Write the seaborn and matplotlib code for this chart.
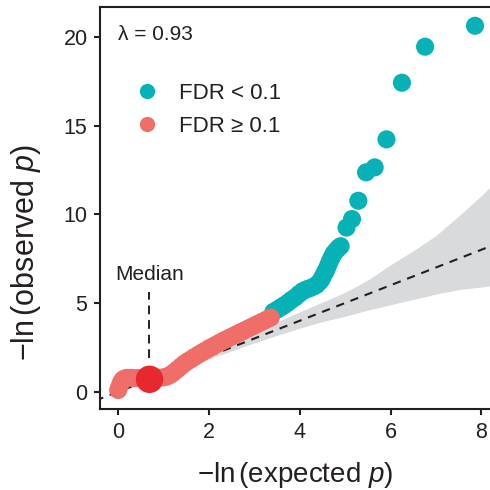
import numpy as np
import pandas as pd
import matplotlib
matplotlib.use('Agg')
import matplotlib.pyplot as plt
import seaborn as sns
from matplotlib.lines import Line2D

# valores (-ln p esperado / observado)
sal_x = [0.0, 0.03, 0.06, 0.1, 0.15, 0.2, 0.3, 0.4, 0.5, 0.6, 0.7, 0.8, 0.9, 1.0,
         1.08, 1.15, 1.22, 1.3, 1.38, 1.45, 1.52, 1.6, 1.68, 1.76, 1.84, 1.92,
         2.0, 2.08, 2.16, 2.24, 2.32, 2.4, 2.48, 2.56, 2.64, 2.72, 2.8, 2.88,
         2.96, 3.04, 3.12, 3.2, 3.28, 3.36]
sal_y = [0.1, 0.3, 0.52, 0.68, 0.75, 0.78, 0.78, 0.77, 0.77, 0.77, 0.77, 0.78, 0.79, 0.81,
         0.86, 0.95, 1.08, 1.25, 1.42, 1.57, 1.7, 1.82, 1.95, 2.08, 2.2, 2.32,
         2.44, 2.55, 2.66, 2.77, 2.88, 2.98, 3.08, 3.18, 3.28, 3.38, 3.48, 3.58,
         3.68, 3.78, 3.88, 3.98, 4.08, 4.18]
teal_x = [3.42, 3.5, 3.58, 3.66, 3.74, 3.82, 3.9, 3.98, 4.06, 4.14, 4.22, 4.3,
          4.37, 4.44, 4.48, 4.52, 4.56, 4.59, 4.63, 4.67, 4.71, 4.75, 4.8, 4.85,
          4.9, 5.03, 5.15, 5.29, 5.46, 5.65, 5.91, 6.25, 6.76, 7.86]
teal_y = [4.5, 4.62, 4.75, 4.88, 5.02, 5.18, 5.32, 5.5, 5.66, 5.76, 5.83, 5.92,
          6.02, 6.2, 6.35, 6.55, 6.75, 6.9, 7.15, 7.4, 7.6, 7.8, 7.95, 8.1,
          8.2, 9.25, 9.73, 10.76, 12.36, 12.64, 14.22, 17.41, 19.44, 20.62]
median_x = [0.69]
median_y = [0.7]
band_x = [0.0, 0.5, 1.0, 1.5, 2.0, 2.5, 3.0, 3.5, 4.0, 4.5, 5.0, 5.5, 6.0, 6.5, 7.0, 7.5, 8.0, 8.3]
band_lo = [-0.05, 0.42, 0.9, 1.38, 1.85, 2.3, 2.75, 3.18, 3.58, 3.95, 4.25, 4.6, 4.9, 5.2, 5.5, 5.75, 5.9, 6.0]
band_hi = [0.05, 0.58, 1.12, 1.66, 2.22, 2.78, 3.36, 3.95, 4.5, 5.05, 5.6, 6.3, 7.15, 7.95, 8.8, 9.9, 11.05, 11.8]
lambda_txt = '\u03bb = 0.93'
labels = ['FDR < 0.1', 'FDR \u2265 0.1']

cor_teal = '#07B2B6'
cor_sal = '#EF6F68'
cor_med = '#E8282F'
cor_txt = '#231F20'

df = pd.DataFrame({'esperado': teal_x + sal_x,
                   'observado': teal_y + sal_y,
                   'grupo': [labels[0]] * len(teal_x) + [labels[1]] * len(sal_x)})

sns.set_style('ticks')
plt.rcParams['font.family'] = ['Liberation Sans', 'DejaVu Sans']
plt.rcParams['mathtext.fontset'] = 'custom'
plt.rcParams['mathtext.rm'] = 'Liberation Sans'
plt.rcParams['mathtext.it'] = 'Liberation Sans:italic'

fig = plt.figure(figsize=(4.9, 4.9), dpi=100)
ax = fig.add_axes([0.2041, 0.1647, 0.7959, 0.8204])

ax.fill_between(band_x, band_lo, band_hi, color='#D9DADC', lw=0, zorder=1)
ax.plot([-0.5, 8.3], [-0.5, 8.3], color=cor_txt, lw=1.5, dashes=(4, 3.3), zorder=2)

sns.scatterplot(data=df, x='esperado', y='observado', hue='grupo',
                palette={labels[0]: cor_teal, labels[1]: cor_sal},
                s=170, edgecolor='none', linewidth=0, alpha=1,
                legend=False, ax=ax, zorder=3)
ax.scatter(median_x, median_y, s=390, color=cor_med, edgecolor='none', zorder=4)

# linha da mediana
ax.plot([median_x[0], median_x[0]], [1.9, 5.6], color=cor_txt, lw=1.4, dashes=(4.5, 3), zorder=2)
ax.text(median_x[0], 6.6, 'Median', ha='center', va='center', fontsize=15, color=cor_txt)
ax.text(0.0, 20.1, lambda_txt, ha='left', va='center', fontsize=15, color=cor_txt)

handles = [Line2D([], [], ls='', marker='o', markersize=11, color=cor_teal, mec='none'),
           Line2D([], [], ls='', marker='o', markersize=11, color=cor_sal, mec='none')]
ax.legend(handles, labels, loc='center left', bbox_to_anchor=(0.068, 0.745),
          frameon=False, fontsize=16, borderpad=0, borderaxespad=0,
          handlelength=1.8, handletextpad=0.55, labelspacing=0.55, labelcolor=cor_txt)

ax.set_xlim(-0.4, 8.19)
ax.set_ylim(-0.99, 21.66)
ax.set_xticks([0, 2, 4, 6, 8])
ax.set_yticks([0, 5, 10, 15, 20])
ax.tick_params(labelsize=15.5, length=4, width=1.5, pad=5, colors=cor_txt)

ax.set_xlabel(r'$-\ln\left(\mathrm{expected}\ p\right)$', fontsize=20, color=cor_txt)
ax.set_ylabel(r'$-\ln\left(\mathrm{observed}\ p\right)$', fontsize=22, color=cor_txt)
ax.xaxis.set_label_coords(0.5, -0.125)
ax.yaxis.set_label_coords(-0.145, 0.39)

for lado in ['left', 'bottom', 'top']:
    ax.spines[lado].set_linewidth(1.5)
    ax.spines[lado].set_color(cor_txt)
ax.spines['right'].set_visible(False)

fig.savefig('out.png', dpi=100)
